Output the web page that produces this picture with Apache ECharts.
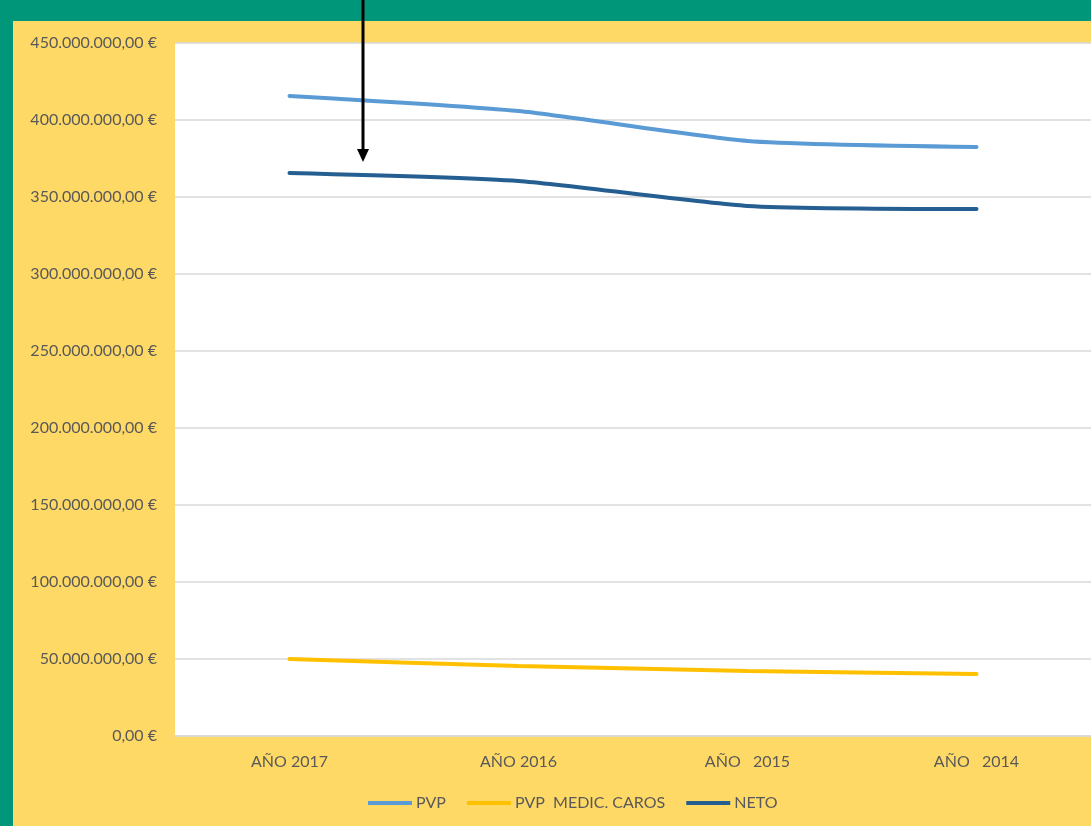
<!DOCTYPE html>
<html>
<head>
<meta charset="utf-8">
<script src="https://cdn.jsdelivr.net/npm/echarts@6/dist/echarts.min.js"></script>
<style>
html,body{margin:0;padding:0;background:#00967a;}
#chart{width:1091px;height:826px;}
</style>
</head>
<body>
<div id="chart"></div>
<script>
const categories = ['AÑO 2017', 'AÑO 2016', 'AÑO   2015', 'AÑO   2014'];
const pvp = [415600000, 405800000, 386400000, 382500000];
const pvpCaros = [50000000, 45500000, 42200000, 40300000];
const neto = [365600000, 360400000, 344200000, 342200000];
const seriesNames = ['PVP', 'PVP  MEDIC. CAROS', 'NETO'];

function fmtEuro(v) {
  const parts = Math.round(v).toString().replace(/\B(?=(\d{3})+(?!\d))/g, '.');
  return parts + ',00 €';
}

const FONT = 'Lato';
const chart = echarts.init(document.getElementById('chart'));
chart.setOption({
  backgroundColor: '#00967a',
  animation: false,
  textStyle: { fontFamily: FONT },
  graphic: [
    { type: 'rect', z: -10, silent: true, shape: { x: 13, y: 21, width: 1100, height: 820 }, style: { fill: '#FFD966' } },
    { type: 'line', z: 100, silent: true, shape: { x1: 363, y1: 0, x2: 363, y2: 150 }, style: { stroke: '#000', lineWidth: 3 } },
    { type: 'polygon', z: 100, silent: true, shape: { points: [[357, 149], [369, 149], [363, 162]] }, style: { fill: '#000' } }
  ],
  grid: {
    left: 175, top: 43, right: -1, bottom: 90,
    show: true, backgroundColor: '#ffffff', borderWidth: 0
  },
  legend: {
    left: 363, top: 790,
    icon: 'rect', itemWidth: 44, itemHeight: 4, itemGap: 21,
    textStyle: { color: '#595959', fontSize: 16, fontFamily: FONT, padding: [0, 0, 0, -1] },
    data: seriesNames
  },
  xAxis: {
    type: 'category',
    data: categories,
    boundaryGap: true,
    axisLine: { lineStyle: { color: '#D9D9D9', width: 1.5 } },
    axisTick: { show: false },
    axisLabel: { color: '#595959', fontSize: 16, margin: 18, fontFamily: FONT }
  },
  yAxis: {
    type: 'value',
    min: 0, max: 450000000, interval: 50000000,
    axisLine: { show: false },
    axisTick: { show: false },
    splitLine: { lineStyle: { color: '#D9D9D9', width: 1.5 } },
    axisLabel: { color: '#595959', fontSize: 16, margin: 18, fontFamily: FONT, formatter: fmtEuro }
  },
  series: [
    { name: seriesNames[0], type: 'line', data: pvp, smooth: 0.2, showSymbol: false, symbol: 'none',
      lineStyle: { color: '#5B9BD5', width: 4, cap: 'round' }, itemStyle: { color: '#5B9BD5' } },
    { name: seriesNames[1], type: 'line', data: pvpCaros, smooth: 0.2, showSymbol: false, symbol: 'none',
      lineStyle: { color: '#FFC000', width: 4, cap: 'round' }, itemStyle: { color: '#FFC000' } },
    { name: seriesNames[2], type: 'line', data: neto, smooth: 0.2, showSymbol: false, symbol: 'none',
      lineStyle: { color: '#255E91', width: 4, cap: 'round' }, itemStyle: { color: '#255E91' } }
  ]
});
</script>
</body>
</html>
